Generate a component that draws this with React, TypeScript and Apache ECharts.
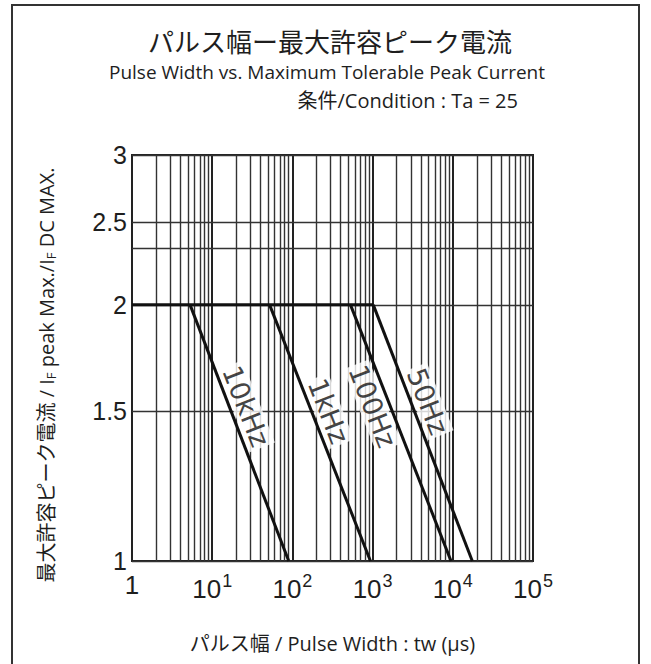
import React, { useEffect, useRef } from 'react';
import * as echarts from 'echarts';

// ---------------- data ----------------
const frequencies = ['10kHz', '1kHz', '100Hz', '50Hz'];
const kneeWidths = [5.3, 52, 530, 1020]; // µs where each curve leaves the 2.0 plateau
const endWidths = [90, 940, 9500, 17500]; // µs where each curve reaches 1.0
const ratioTop = 2;
const ratioBottom = 1;
const plateauStart = 1;
const plateauEnd = 1020;
const labelWidths = [26.5, 282, 1000, 4860];
const labelRatios = [1.52, 1.5, 1.52, 1.54];
const yTickValues = [1, 1.5, 2, 2.5, 3];
const yExtraGridValues = [2.33];
const xDecades = [1, 10, 100, 1000, 10000, 100000];
const xTickLabels = ['1', '10{s|1}', '10{s|2}', '10{s|3}', '10{s|4}', '10{s|5}'];
const minorMultipliers = [2, 3, 4, 5, 6, 7, 8, 9];

const titleJa = 'パルス幅ー最大許容ピーク電流';
const titleEn = 'Pulse Width vs. Maximum Tolerable Peak Current';
const conditionText = '条件/Condition : Ta = 25';
const xName = 'パルス幅 / Pulse Width : tw (µs)';
const yName = '{t|最大許容ピーク電流 / I}{sub|F}{t| peak Max./I}{sub|F}{t| DC MAX.}';

const tickFont = '"Liberation Sans Narrow", "Arial Narrow", "Liberation Sans", Arial, sans-serif';
const textFont = '"Open Sans", "Noto Sans CJK JP", sans-serif';
const curveLabelFont = '"DejaVu Sans", sans-serif';
const ink = '#1e1e1e';
const gridInk = '#333';

export default function App() {
  const ref = useRef<HTMLDivElement>(null);

  useEffect(() => {
    if (!ref.current) return;
    const chart = echarts.init(ref.current, undefined, { renderer: 'svg' });

    const minorX: number[] = [];
    xDecades.slice(0, -1).forEach((d) => minorMultipliers.forEach((m) => minorX.push(d * m)));

    const yLineItems = [...yTickValues, ...yExtraGridValues].map((v) => {
      const isTick = yTickValues.indexOf(v) >= 0;
      let padding = [0, 0, 0, 0];
      if (v === 1) padding = [0, 0, 22, 0];
      if (v === 3) padding = [14, 0, 0, 0];
      return {
        yAxis: v,
        label: {
          show: isTick,
          position: 'start',
          formatter: String(v),
          distance: 5,
          fontFamily: tickFont,
          fontSize: 25,
          color: ink,
          padding,
        },
      };
    });

    const option: any = {
      animation: false,
      backgroundColor: '#fff',
      graphic: [
        {
          type: 'rect',
          z: 0,
          shape: { x: 12, y: 5, width: 627, height: 700 },
          style: { fill: 'none', stroke: '#333', lineWidth: 2 },
        },
        {
          type: 'text',
          x: 330,
          y: 42,
          style: { text: titleJa, fontFamily: textFont, fontSize: 26, fill: ink, align: 'center', verticalAlign: 'middle' },
        },
        {
          type: 'text',
          x: 327,
          y: 72,
          style: { text: titleEn, fontFamily: textFont, fontSize: 19, fill: ink, align: 'center', verticalAlign: 'middle' },
        },
        {
          type: 'text',
          x: 518,
          y: 100,
          style: { text: conditionText, fontFamily: textFont, fontSize: 20, fill: ink, align: 'right', verticalAlign: 'middle' },
        },
        {
          type: 'text',
          x: 46,
          y: 375,
          rotation: Math.PI / 2,
          style: {
            text: yName,
            fontFamily: textFont,
            fontSize: 20,
            fill: ink,
            align: 'center',
            verticalAlign: 'middle',
            rich: {
              t: { fontFamily: textFont, fontSize: 20, fill: ink, color: ink },
              sub: { fontFamily: textFont, fontSize: 13, fill: ink, color: ink, padding: [9, 0, 0, 0] },
            },
          },
        },
      ],
      grid: {
        left: 132,
        right: 118,
        top: 155,
        bottom: 103,
        show: true,
        borderColor: '#222',
        borderWidth: 2,
        backgroundColor: 'transparent',
      },
      xAxis: {
        type: 'log',
        logBase: 10,
        min: 1,
        max: 100000,
        axisLine: { show: false },
        axisTick: { show: false },
        splitLine: { show: true, lineStyle: { color: '#222', width: 2 } },
        axisLabel: {
          margin: 11,
          fontFamily: tickFont,
          fontSize: 26,
          color: ink,
          formatter: (v: number) => xTickLabels[Math.round(Math.log10(v))] ?? '',
          rich: {
            s: { fontFamily: tickFont, fontSize: 18, color: ink, padding: [0, 0, 16, 1] },
          },
        },
        name: xName,
        nameLocation: 'middle',
        nameGap: 72,
        nameTextStyle: { fontFamily: textFont, fontSize: 20, color: ink },
      },
      yAxis: {
        type: 'log',
        logBase: 10,
        min: 1,
        max: 3,
        axisLine: { show: false },
        axisTick: { show: false },
        axisLabel: { show: false },
        splitLine: { show: false },
      },
      series: [
        {
          type: 'line',
          z: 3,
          symbol: 'none',
          data: [
            [plateauStart, ratioTop],
            [plateauEnd, ratioTop],
          ],
          lineStyle: { color: '#111', width: 3 },
          markLine: {
            silent: true,
            z: 1,
            symbol: 'none',
            animation: false,
            label: { show: false },
            lineStyle: { color: gridInk, width: 1.4, type: 'solid' },
            emphasis: { disabled: true },
            data: [...minorX.map((v) => ({ xAxis: v })), ...yLineItems],
          },
        },
        ...frequencies.map((f, i) => ({
          type: 'line',
          name: f,
          z: 4,
          symbol: 'none',
          data: [
            [kneeWidths[i], ratioTop],
            [endWidths[i], ratioBottom],
          ],
          lineStyle: { color: '#111', width: 3 },
        })),
        {
          type: 'scatter',
          z: 10,
          symbolSize: 0,
          itemStyle: { color: 'rgba(0,0,0,0)' },
          data: frequencies.map((f, i) => ({ name: f, value: [labelWidths[i], labelRatios[i]] })),
          label: {
            show: true,
            position: 'inside',
            formatter: '{b}',
            rotate: -68.5,
            fontFamily: curveLabelFont,
            fontSize: 27,
            color: '#111',
            backgroundColor: '#fff',
            padding: [0, 2],
          },
        },
      ],
    };

    chart.setOption(option);
    return () => chart.dispose();
  }, []);

  return (
    <div
      ref={ref}
      style={{ position: 'fixed', left: 0, top: 0, width: 651, height: 664, background: '#fff' }}
    />
  );
}
